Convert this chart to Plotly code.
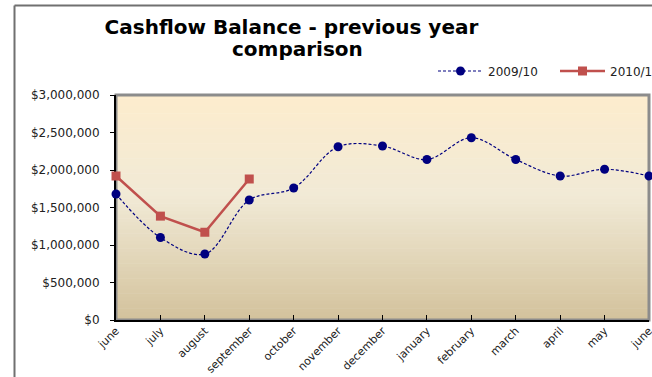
import plotly.graph_objects as go

months = ["june", "july", "august", "september", "october", "november", "december",
          "january", "february", "march", "april", "may", "june"]
balance_2009_10 = [1680000, 1100000, 880000, 1600000, 1760000, 2310000, 2320000,
                   2140000, 2430000, 2140000, 1920000, 2010000, 1920000]
balance_2010_11 = [1920000, 1385000, 1170000, 1880000]
y_ticks = [0, 500000, 1000000, 1500000, 2000000, 2500000, 3000000]

x_pos = list(range(len(months)))

FONT = "DejaVu Sans"
TXT = "#222222"

fig = go.Figure()
fig.add_trace(go.Scatter(
    x=x_pos, y=balance_2009_10, name="2009/10", mode="lines+markers",
    line=dict(color="#000080", width=1.2, dash="3px,2px", shape="spline", smoothing=1.0),
    marker=dict(symbol="circle", size=9, color="#000080"),
    cliponaxis=False,
))
fig.add_trace(go.Scatter(
    x=x_pos[:len(balance_2010_11)], y=balance_2010_11, name="2010/11", mode="lines+markers",
    line=dict(color="#C0504D", width=2.5),
    marker=dict(symbol="square", size=9, color="#C0504D"),
    cliponaxis=False,
))

# gradient plot-area background (styling only)
def lerp(a, b, t):
    return tuple(round(a[i] + (b[i] - a[i]) * t) for i in range(3))

top_c, mid_c, bot_c = (253, 236, 205), (241, 234, 214), (211, 194, 156)
shapes = []
N = 60
for i in range(N):
    t = (i + 0.5) / N  # 0 at top
    c = lerp(top_c, mid_c, t / 0.45) if t < 0.45 else lerp(mid_c, bot_c, (t - 0.45) / 0.55)
    y1 = 1 - i / N
    y0 = 1 - (i + 1) / N
    shapes.append(dict(type="rect", xref="x domain", yref="y domain", x0=0, x1=1,
                       y0=y0, y1=y1 + 0.002, line=dict(width=0),
                       fillcolor="rgb(%d,%d,%d)" % c, layer="below"))
# plot-area frame
shapes.append(dict(type="rect", xref="x domain", yref="y domain", x0=0, x1=1, y0=0, y1=1,
                   line=dict(color="#8c8c8c", width=3), layer="below"))
# outer chart border (left + top)
bx = -(116 - 14.5) / 533
by = 1 + (95 - 5.5) / 225
shapes.append(dict(type="line", xref="paper", yref="paper", x0=bx, x1=bx,
                   y0=-2, y1=by, line=dict(color="#707070", width=2)))
shapes.append(dict(type="line", xref="paper", yref="paper", x0=bx, x1=1.2,
                   y0=by, y1=by, line=dict(color="#707070", width=2)))

fig.update_layout(
    width=652, height=377,
    margin=dict(l=116, r=3, t=95, b=57, autoexpand=False),
    paper_bgcolor="white", plot_bgcolor="white",
    font=dict(family=FONT, size=12, color=TXT),
    title=dict(text="<b>Cashflow Balance - previous year</b>", x=0.447, xanchor="center",
               xref="container", yref="container", y=1 - 27 / 377, yanchor="middle",
               font=dict(family=FONT, size=20, color="black")),
    annotations=[dict(text="<b>comparison</b>", xref="paper", yref="paper",
                      x=(297 - 116) / 533, y=1 + (95 - 49) / 225, showarrow=False,
                      xanchor="center", yanchor="middle",
                      font=dict(family=FONT, size=20, color="black"))],
    legend=dict(orientation="h", x=(433 - 116) / 533, xanchor="left",
                y=1 + (95 - 71) / 225, yanchor="middle",
                font=dict(family=FONT, size=12, color=TXT), itemwidth=45,
                entrywidth=62, bgcolor="rgba(0,0,0,0)"),
    shapes=shapes,
    showlegend=True,
)
fig.update_xaxes(
    range=[0, len(months) - 1], tickmode="array", tickvals=x_pos, ticktext=months,
    tickangle=-45, showgrid=False, zeroline=False,
    showline=True, linecolor="black", linewidth=2,
    ticks="inside", ticklen=5, tickcolor="black", tickwidth=1,
    ticklabeloverflow="allow", ticklabelstandoff=-2,
    tickfont=dict(family=FONT, size=11, color=TXT), layer="below traces",
)
fig.update_yaxes(
    range=[0, 3000000], tickmode="array", tickvals=y_ticks,
    ticktext=["$" + format(v, ",") for v in y_ticks],
    showgrid=False, zeroline=False,
    showline=True, linecolor="black", linewidth=2,
    ticks="outside", ticklen=4, tickcolor="black", tickwidth=1,
    ticklabelstandoff=8,
    tickfont=dict(family=FONT, size=12, color=TXT), layer="below traces",
)

fig.write_html("out.html")
